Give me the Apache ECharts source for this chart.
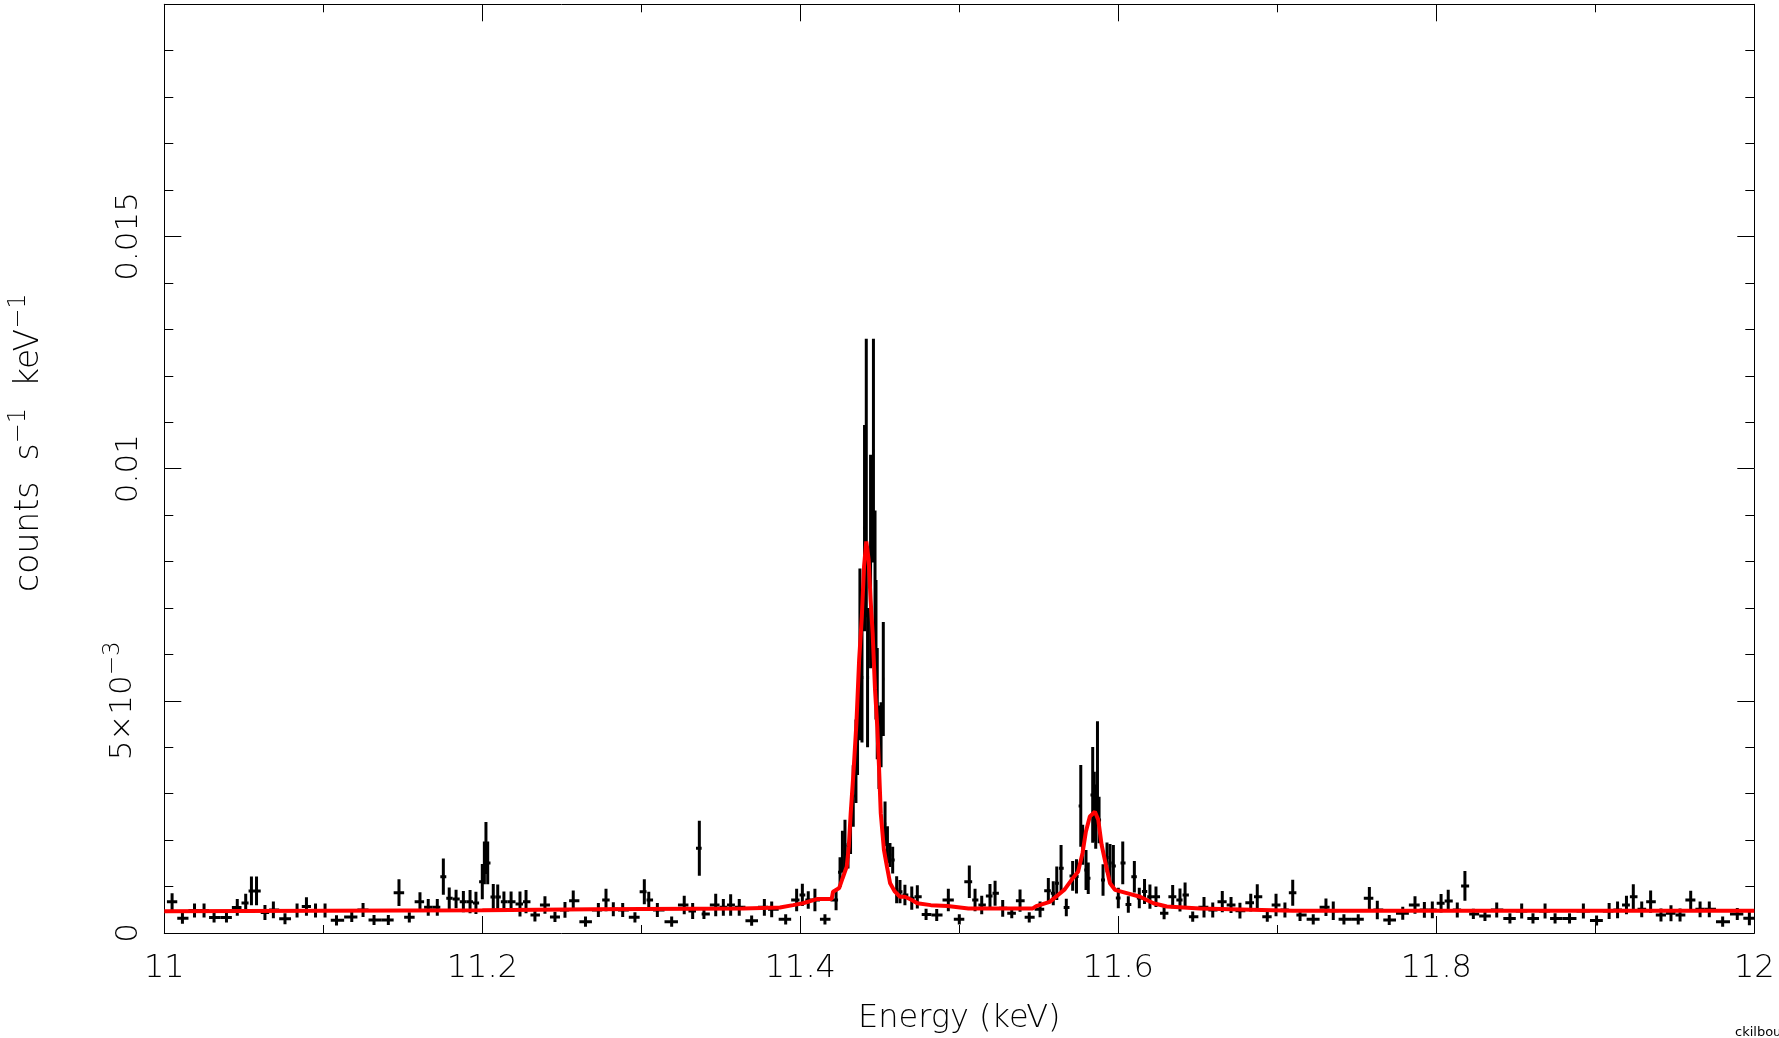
<!DOCTYPE html>
<html>
<head>
<meta charset="utf-8">
<script src="https://cdn.jsdelivr.net/npm/echarts@6/dist/echarts.min.js"></script>
<style>html,body{margin:0;padding:0;background:#fff}#chart{width:1779px;height:1038px}</style>
</head>
<body>
<div id="chart"></div>
<script>
// ---- observed spectrum: bin centre energy (keV), rate (counts s^-1 keV^-1), 1-sigma error ----
const energy = [
  11.0049, 11.0114, 11.019, 11.025, 11.0313, 11.0391, 11.0459, 11.0512, 11.0548, 11.058,
  11.0633, 11.0686, 11.0759, 11.0835, 11.0894, 11.0951, 11.1011, 11.1083, 11.1179, 11.125,
  11.1319, 11.1409, 11.1476, 11.1541, 11.1608, 11.166, 11.1717, 11.1755, 11.1792, 11.1835,
  11.1881, 11.1923, 11.196, 11.2, 11.2013, 11.2023, 11.2034, 11.2069, 11.2097, 11.2136,
  11.2181, 11.2237, 11.2275, 11.2331, 11.2394, 11.2457, 11.252, 11.2572, 11.2649, 11.273,
  11.2778, 11.2824, 11.2883, 11.296, 11.3019, 11.3047, 11.3101, 11.3191, 11.327, 11.3323,
  11.3365, 11.3394, 11.3468, 11.3516, 11.3562, 11.3616, 11.3694, 11.3774, 11.382, 11.3908,
  11.3977, 11.4013, 11.405, 11.4092, 11.4155, 11.4225,
  11.425, 11.4265, 11.4281, 11.43, 11.4316, 11.4333, 11.435, 11.436, 11.4375, 11.4388,
  11.4404, 11.4415, 11.4423, 11.4442, 11.446, 11.447, 11.4476, 11.4484, 11.4495, 11.4508,
  11.4522, 11.4533, 11.4548, 11.4564, 11.4581, 11.4606, 11.4627, 11.4658, 11.4701, 11.4736,
  11.4791,
  11.4858, 11.4931, 11.5, 11.5063, 11.5099, 11.5141, 11.5193, 11.5225,
  11.5273, 11.533, 11.5382, 11.544, 11.5508, 11.556, 11.5591, 11.5613, 11.564, 11.5673,
  11.5713, 11.5737, 11.5764, 11.5776, 11.5797, 11.5811, 11.5839, 11.5849, 11.5858, 11.5869,
  11.5879, 11.5904, 11.5929, 11.5948, 11.5969, 11.6, 11.6028, 11.6063, 11.6101, 11.6132,
  11.6165, 11.6199, 11.6237, 11.6288, 11.6342, 11.6388, 11.642, 11.6468,
  11.6539, 11.6594, 11.6654, 11.6709, 11.6765, 11.6833, 11.6874, 11.6937, 11.6992, 11.7048,
  11.7097, 11.7143, 11.7226, 11.7306, 11.7352, 11.7419, 11.7509, 11.7579, 11.7629, 11.7704,
  11.7789, 11.7866, 11.7925, 11.7975, 11.803, 11.8075, 11.8132, 11.818, 11.8233, 11.8306,
  11.838, 11.8463, 11.8537, 11.8608, 11.8684, 11.8747, 11.8838, 11.8925, 11.9008, 11.9087,
  11.914, 11.9196,
  11.9239, 11.9292, 11.9348, 11.9413, 11.9476, 11.9533, 11.96, 11.9659, 11.9717, 11.9801,
  11.9893, 11.9969
];
const rate = [
  0.000675, 0.000317, 0.000485, 0.000485, 0.000334, 0.000334, 0.00055, 0.000647, 0.000905, 0.000905,
  0.000442, 0.000496, 0.000308, 0.000485, 0.000571, 0.000485, 0.000485, 0.000274, 0.000345, 0.000496,
  0.00028, 0.00028, 0.000869, 0.000338, 0.000675, 0.000554, 0.000554, 0.001213, 0.000748, 0.000733,
  0.000675, 0.000675, 0.000647, 0.001106, 0.001509, 0.001832, 0.001509, 0.000776, 0.000776, 0.000675,
  0.000675, 0.000625, 0.000675, 0.000388, 0.000603, 0.000345, 0.000496, 0.000696, 0.000244, 0.000496,
  0.000711, 0.000511, 0.000496, 0.000338, 0.00089, 0.000711, 0.000496, 0.000244, 0.000603, 0.000474,
  0.001825, 0.00041, 0.000603, 0.000554, 0.000603, 0.000554, 0.000265, 0.000554, 0.000511, 0.000295,
  0.000711, 0.000819, 0.000711, 0.000711, 0.000295, 0.000711,
  0.00131, 0.00175, 0.0019, 0.00164, 0.0022, 0.00295, 0.0037, 0.0042, 0.006, 0.0055,
  0.00872, 0.0098, 0.0055, 0.008, 0.01039, 0.0072, 0.0061, 0.00494, 0.004, 0.00427,
  0.00547, 0.00235, 0.0019, 0.00168, 0.00157, 0.00093, 0.00089, 0.00082, 0.00075, 0.00078,
  0.0004,
  0.000388, 0.000711, 0.000295, 0.001106, 0.000711, 0.000603, 0.000797, 0.000856,
  0.000532, 0.000425, 0.000696, 0.000338, 0.000511, 0.000912, 0.000856, 0.001071, 0.001394, 0.00055,
  0.001228, 0.001218, 0.002737, 0.0019, 0.001358, 0.001179, 0.002974, 0.002722, 0.002506, 0.00355,
  0.002435, 0.001142, 0.001627, 0.001509, 0.001444, 0.000754, 0.001509, 0.000614, 0.001213, 0.000754,
  0.000894, 0.000782, 0.000782, 0.000425, 0.000782, 0.000711, 0.000819, 0.000351,
  0.000554, 0.000496, 0.000675, 0.000603, 0.000481, 0.000653, 0.000782, 0.000351, 0.000603, 0.000496,
  0.000869, 0.000388, 0.000295, 0.000554, 0.000481, 0.000295, 0.000295, 0.000748, 0.000496, 0.00028,
  0.000425, 0.000603, 0.000496, 0.000496, 0.00064, 0.00069, 0.000496, 0.001013, 0.00041, 0.000366,
  0.000496, 0.000313, 0.000474, 0.000313, 0.000474, 0.000313, 0.000313, 0.000474, 0.000269, 0.000474,
  0.000496, 0.000603,
  0.000782, 0.000511, 0.000675, 0.000388, 0.000425, 0.000388, 0.000711, 0.000511, 0.000511, 0.000244,
  0.00041, 0.000317
];
const rateErr = [
  0.00018, 0.00012, 0.00015, 0.00015, 0.00011, 0.00011, 0.00018, 0.0002, 0.00031, 0.00031,
  0.00016, 0.00018, 0.00012, 0.00015, 0.0002, 0.00015, 0.00015, 0.00011, 0.00011, 0.00015,
  0.00011, 0.00011, 0.00029, 0.00011, 0.0002, 0.00018, 0.00018, 0.00039, 0.00023, 0.0002,
  0.00023, 0.00025, 0.00024, 0.00038, 0.00046, 0.00056, 0.00046, 0.00028, 0.00027, 0.00022,
  0.00022, 0.00027, 0.00025, 0.00014, 0.00019, 0.00011, 0.00017, 0.00022, 0.00011, 0.00015,
  0.00024, 0.00015, 0.00015, 0.00011, 0.00027, 0.00018, 0.00015, 0.00011, 0.0002, 0.00017,
  0.00059, 0.00011, 0.00024, 0.00018, 0.00023, 0.00018, 0.00011, 0.00018, 0.00017, 0.00011,
  0.00024, 0.00024, 0.00019, 0.00024, 0.00011, 0.00022,
  0.00032, 0.00045, 0.00054, 0.00025, 0.0005, 0.00066, 0.0009, 0.0008, 0.00185, 0.0014,
  0.00222, 0.003, 0.0015, 0.0023, 0.00241, 0.0019, 0.0015, 0.0012, 0.0009, 0.0007,
  0.00123, 0.00048, 0.0004, 0.00026, 0.00029, 0.00029, 0.00025, 0.00022, 0.00025, 0.00025,
  0.00012,
  0.00013, 0.00024, 0.00011, 0.00035, 0.00024, 0.0002, 0.00026, 0.00027,
  0.00018, 0.00011, 0.00024, 0.00011, 0.00017, 0.00027, 0.00026, 0.00036, 0.0005, 0.00019,
  0.00032, 0.00037, 0.00088, 0.00043, 0.00043, 0.00034, 0.00103, 0.00075, 0.00069, 0.00101,
  0.0005, 0.00034, 0.00032, 0.00041, 0.00045, 0.00022, 0.00046, 0.00018, 0.00034, 0.00022,
  0.00027, 0.00026, 0.00022, 0.00013, 0.00025, 0.00025, 0.00027, 0.00011,
  0.00022, 0.00016, 0.00023, 0.00017, 0.00017, 0.00019, 0.00027, 0.00011, 0.00024, 0.00016,
  0.00028, 0.00013, 0.00011, 0.00019, 0.0002, 0.00011, 0.00011, 0.00024, 0.0002, 0.00011,
  0.00014, 0.00019, 0.00017, 0.00018, 0.0002, 0.00024, 0.00016, 0.00032, 0.00011, 0.00011,
  0.00016, 0.00011, 0.00016, 0.00011, 0.00016, 0.00011, 0.00011, 0.00016, 0.00011, 0.00017,
  0.00018, 0.0002,
  0.00027, 0.00017, 0.00024, 0.00014, 0.00017, 0.00014, 0.0002, 0.00017, 0.00017, 0.00011,
  0.00013, 0.00015
];

// ---- folded model (red curve) ----
const modelEnergy = [
  11.0, 11.1, 11.2, 11.2696, 11.364, 11.3872, 11.3954, 11.4017, 11.4103, 11.4197,
  11.4206, 11.4245, 11.4266, 11.4292, 11.4305, 11.4317, 11.4334, 11.4353, 11.437, 11.4387,
  11.4401, 11.4415, 11.443, 11.4442, 11.4455, 11.447, 11.4484, 11.4495, 11.4506, 11.4526,
  11.4545, 11.4565, 11.4595, 11.4627, 11.4658, 11.4701, 11.4736, 11.4821, 11.4926, 11.5057,
  11.5462, 11.5484, 11.5569, 11.5621, 11.5663, 11.5705, 11.5747, 11.5775, 11.5796, 11.5821,
  11.5853, 11.5874, 11.5895, 11.5922, 11.5948, 11.5979, 11.6053, 11.6137, 11.6221, 11.6305,
  11.6514, 11.7097, 12.0
];
const modelRate = [
  0.00047, 0.00048, 0.00049, 0.00051, 0.00053, 0.00055, 0.0006, 0.00064, 0.00073, 0.00073,
  0.00089, 0.00097, 0.00118, 0.00143, 0.00186, 0.00258, 0.00344, 0.00452, 0.00588, 0.00682,
  0.0079, 0.00843, 0.00804, 0.00718, 0.00646, 0.00524, 0.00445, 0.00358, 0.00258, 0.00179,
  0.00143, 0.00107, 0.00089, 0.00078, 0.00078, 0.00071, 0.00064, 0.0006, 0.00058, 0.00053,
  0.00053, 0.00058, 0.00067, 0.00082, 0.00094, 0.00114, 0.00132, 0.00172, 0.00218, 0.00251,
  0.00261, 0.00244, 0.0019, 0.00147, 0.00107, 0.00093, 0.00086, 0.00078, 0.00064, 0.00057,
  0.00053, 0.00048, 0.00048
];

// ---- axis tick labels ----
const xTickValues = [11, 11.2, 11.4, 11.6, 11.8, 12];
const xTickLabels = ['11', '11.2', '11.4', '11.6', '11.8', '12'];
const yTickLabels = ['0', '5×10{sup|−3}', '0.01', '0.015', ''];

const FONT = "'DejaVu Sans', 'Liberation Sans', sans-serif";

// build error-bar items (bin edges halfway to neighbouring bins)
const errItems = energy.map((e, i) => {
  const lo = i > 0 ? (energy[i - 1] + e) / 2 : e - (energy[1] - energy[0]) / 2;
  const hi = i < energy.length - 1 ? (energy[i + 1] + e) / 2 : e + (e - energy[i - 1]) / 2;
  return [e, rate[i], rateErr[i], lo, hi];
});
const modelData = modelEnergy.map((e, i) => [e, modelRate[i]]);

const chart = echarts.init(document.getElementById('chart'), null, { renderer: 'canvas' });

const axisCommon = {
  axisLine: { show: true, onZero: false, lineStyle: { color: '#000', width: 1 } },
  splitLine: { show: false },
  minorSplitLine: { show: false }
};

chart.setOption({
  animation: false,
  backgroundColor: '#fff',
  grid: { left: 164.3, right: 24.7, top: 4.3, bottom: 105, containLabel: false, outerBoundsMode: 'none' },
  xAxis: [
    Object.assign({}, axisCommon, {
      type: 'value', min: 11, max: 12, interval: 0.2, position: 'bottom',
      axisTick: { show: true, inside: true, length: 17, lineStyle: { color: '#000', width: 1 } },
      minorTick: { show: true, splitNumber: 2, length: 8, lineStyle: { color: '#000', width: 1 } },
      axisLabel: {
        show: true, color: '#000', fontSize: 32, fontFamily: FONT, fontWeight: 200, margin: 20,
        formatter: v => { const k = xTickValues.findIndex(t => Math.abs(t - v) < 1e-6); return k >= 0 ? xTickLabels[k] : ''; }
      },
      name: 'Energy (keV)', nameLocation: 'middle', nameGap: 70,
      nameTextStyle: { color: '#000', fontSize: 32, fontFamily: FONT, fontWeight: 200 }
    }),
    Object.assign({}, axisCommon, {
      type: 'value', min: 11, max: 12, interval: 0.2, position: 'top',
      axisTick: { show: true, inside: true, length: 17, lineStyle: { color: '#000', width: 1 } },
      minorTick: { show: true, splitNumber: 2, length: 8, lineStyle: { color: '#000', width: 1 } },
      axisLabel: { show: false }
    })
  ],
  yAxis: [
    Object.assign({}, axisCommon, {
      type: 'value', min: 0, max: 0.02, interval: 0.005, position: 'left',
      axisTick: { show: true, inside: true, length: 17, lineStyle: { color: '#000', width: 1 } },
      minorTick: { show: true, splitNumber: 5, length: 9, lineStyle: { color: '#000', width: 1 } },
      axisLabel: {
        show: true, rotate: 90, color: '#000', fontSize: 31, fontFamily: FONT, fontWeight: 200, margin: 20,
        formatter: v => yTickLabels[Math.round(v / 0.005)] || '',
        rich: { sup: { fontSize: 23, color: '#000', fontFamily: FONT, fontWeight: 200, verticalAlign: 'top', padding: [0, 0, 20, 0] } }
      },
      name: 'counts  s{sup|−1}  keV{sup|−1}', nameLocation: 'middle', nameRotate: 90, nameGap: 112,
      nameTextStyle: {
        color: '#000', fontSize: 33, fontFamily: FONT, fontWeight: 200, padding: [0, 0, 0, 52],
        rich: { sup: { fontSize: 24, color: '#000', fontFamily: FONT, fontWeight: 200, verticalAlign: 'top', padding: [0, 0, 22, 0] } }
      }
    }),
    Object.assign({}, axisCommon, {
      type: 'value', min: 0, max: 0.02, interval: 0.005, position: 'right',
      axisTick: { show: true, inside: true, length: 17, lineStyle: { color: '#000', width: 1 } },
      minorTick: { show: true, splitNumber: 5, length: 9, lineStyle: { color: '#000', width: 1 } },
      axisLabel: { show: false }
    })
  ],
  graphic: [{
    type: 'text', left: 1735, top: 1026,
    style: { text: 'ckilbourne', fontSize: 13, fontFamily: FONT, fill: '#000' }
  }],
  series: [
    {
      type: 'custom', name: 'data', xAxisIndex: 0, yAxisIndex: 0, clip: true, z: 2,
      data: errItems,
      encode: { x: 0, y: 1 },
      renderItem: function (params, api) {
        const e = api.value(0), v = api.value(1), er = api.value(2), lo = api.value(3), hi = api.value(4);
        const pL = api.coord([lo, v]), pR = api.coord([hi, v]);
        const pT = api.coord([e, v + er]), pB = api.coord([e, Math.max(v - er, 0)]);
        const st = { stroke: '#000', lineWidth: 3 };
        return {
          type: 'group', children: [
            { type: 'line', shape: { x1: pL[0], y1: pL[1], x2: pR[0], y2: pR[1] }, style: st },
            { type: 'line', shape: { x1: pT[0], y1: pT[1], x2: pB[0], y2: pB[1] }, style: st }
          ]
        };
      }
    },
    {
      type: 'line', name: 'model', xAxisIndex: 0, yAxisIndex: 0, z: 5,
      data: modelData, showSymbol: false, symbol: 'none', smooth: false,
      lineStyle: { color: '#ff0000', width: 4 }
    }
  ]
});
</script>
</body>
</html>
